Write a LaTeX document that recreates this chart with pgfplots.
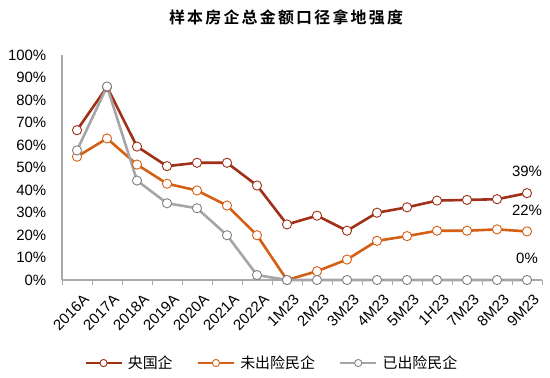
\documentclass[border=0pt]{standalone}
\usepackage{pgfplots}
\pgfplotsset{compat=1.18}
\usepackage{fontspec}
\setmainfont{Liberation Sans}
\newfontfamily\cjk{Noto Sans CJK SC}
\newfontfamily\cjkb{Noto Sans CJK SC Bold}[LetterSpace=14]
\definecolor{cA}{RGB}{160,48,24}
\definecolor{cB}{RGB}{212,96,22}
\definecolor{cC}{RGB}{166,166,166}
\definecolor{axg}{RGB}{170,170,170}
\begin{document}
\begin{tikzpicture}
\useasboundingbox (0bp,0bp) rectangle (550bp,378bp);
\node[font=\fontsize{16}{18}\selectfont\cjkb] at (286bp,361bp) {样本房企总金额口径拿地强度};
\begin{axis}[
  at={(62bp,98bp)}, anchor=south west,
  scale only axis, width=480bp, height=225bp,
  xmin=-0.5, xmax=15.5, ymin=0, ymax=100,
  axis lines*=left,
  axis line style={axg, line width=1.2bp, -},
  xtick={0,...,15},
  xticklabels={2016A,2017A,2018A,2019A,2020A,2021A,2022A,1M23,2M23,3M23,4M23,5M23,1H23,7M23,8M23,9M23},
  major x tick style={draw=none},
  minor xtick={-0.5,0.5,...,15.5},
  minor tick length=5bp,
  minor x tick style={axg, line width=1bp},
  tick align=outside,
  ytick={0,10,...,100},
  ytick style={draw=none},
  yticklabel={\pgfmathprintnumber{\tick}\%},
  /pgf/number format/assume math mode=true,
  ticklabel style={font=\fontsize{15}{17}\selectfont},
  yticklabel style={xshift=-8bp},
  xticklabel style={xshift=5.5bp, yshift=-7.5bp, rotate=45, anchor=north east, inner sep=1bp},
  every axis plot/.append style={line width=2.6bp},
  legend style={at={(0.437,-0.369)}, anchor=center, draw=none, legend columns=3,
    font=\fontsize{15}{17}\selectfont\cjk, /tikz/every even column/.append style={column sep=22bp},
    /tikz/every odd column/.append style={column sep=3bp}},
  legend image code/.code={\draw[#1, mark repeat=2, mark phase=2, mark size=3.6bp] plot coordinates {(0bp,0bp) (18bp,0bp) (36bp,0bp)};},
  clip=false,
]
\addplot[color=cA, mark=*, mark size=4.6bp, mark options={draw=cA, fill=white, line width=0.9bp}] coordinates {
(0,66.6) (1,85.8) (2,59.3) (3,50.6) (4,52.1) (5,52.1) (6,42.0) (7,24.7) (8,28.6) (9,21.9) (10,29.9) (11,32.3) (12,35.3) (13,35.6) (14,35.9) (15,38.6)};
\addlegendentry{央国企}
\addplot[color=cB, mark=*, mark size=4.6bp, mark options={draw=cB, fill=white, line width=0.9bp}] coordinates {
(0,54.8) (1,62.9) (2,51.3) (3,42.8) (4,39.8) (5,33.1) (6,19.9) (7,0) (8,3.9) (9,9.1) (10,17.4) (11,19.5) (12,21.9) (13,21.9) (14,22.5) (15,21.6)};
\addlegendentry{未出险民企}
\addplot[color=cC, mark=*, mark size=4.6bp, mark options={draw=gray, fill=white, line width=0.9bp}] coordinates {
(0,57.6) (1,86.0) (2,44.2) (3,34.1) (4,31.9) (5,19.9) (6,2.2) (7,0) (8,0) (9,0) (10,0) (11,0) (12,0) (13,0) (14,0) (15,0)};
\addlegendentry{已出险民企}
\node[font=\fontsize{15}{17}\selectfont] at (axis cs:15,48.4) {39\%};
\node[font=\fontsize{15}{17}\selectfont] at (axis cs:15,31.1) {22\%};
\node[font=\fontsize{15}{17}\selectfont] at (axis cs:15,9.8) {0\%};
\end{axis}
\end{tikzpicture}
\end{document}
